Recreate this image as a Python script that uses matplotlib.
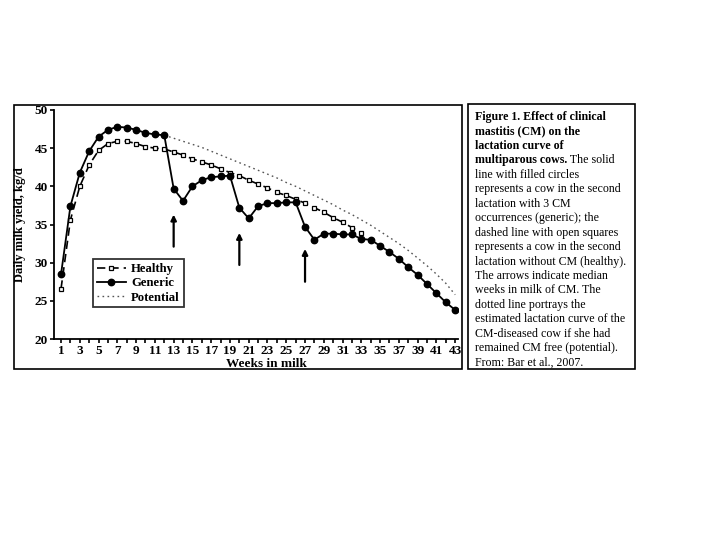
import numpy as np
import matplotlib.pyplot as plt
from matplotlib.patches import Rectangle
from matplotlib.text import Annotation

weeks = np.arange(1, 44)

# generic cow, 3 CM occurrences
generic = [28.5, 37.4, 41.8, 44.6, 46.5, 47.4, 47.8, 47.7, 47.4, 47.0,
           46.8, 46.7, 39.7, 38.1, 40.0, 40.8, 41.2, 41.3, 41.4, 37.2,
           35.8, 37.4, 37.8, 37.8, 37.9, 37.9, 34.7, 33.0, 33.8, 33.8,
           33.7, 33.7, 33.1, 33.0, 32.2, 31.4, 30.5, 29.4, 28.4, 27.2,
           26.0, 24.8, 23.8]

# healthy cow (squares, visible up to week 33)
healthy_weeks = np.arange(1, 34)
healthy = [26.6, 35.6, 40.0, 42.8, 44.7, 45.6, 45.9, 45.9, 45.6, 45.2,
           45.0, 44.9, 44.5, 44.1, 43.6, 43.2, 42.8, 42.3, 41.8, 41.4,
           40.8, 40.3, 39.8, 39.2, 38.8, 38.3, 37.8, 37.2, 36.6, 35.9,
           35.3, 34.6, 33.9]

# potential curve from week 12
potential_weeks = np.arange(12, 44)
potential = [46.7, 46.3, 45.9, 45.5, 45.1, 44.6, 44.1, 43.6, 43.1, 42.6,
             42.1, 41.6, 41.1, 40.5, 40.0, 39.4, 38.8, 38.2, 37.6, 36.9,
             36.3, 35.6, 34.9, 34.1, 33.3, 32.5, 31.6, 30.6, 29.6, 28.5,
             27.3, 25.8]

# arrows: week, tail, head
arrow_weeks = [13, 20, 27]
arrow_tail = [32.1, 29.7, 27.5]
arrow_head = [36.3, 33.9, 31.8]

caption_bold = ["Figure 1. Effect of clinical", "mastitis (CM) on the",
                "lactation curve of", "multiparous cows."]
caption_rest = ["line with filled circles", "represents a cow in the second",
                "lactation with 3 CM", "occurrences (generic); the",
                "dashed line with open squares", "represents a cow in the second",
                "lactation without CM (healthy).", "The arrows indicate median",
                "weeks in milk of CM. The", "dotted line portrays the",
                "estimated lactation curve of the", "CM-diseased cow if she had",
                "remained CM free (potential).", "From: Bar et al., 2007."]

serif = "Liberation Serif"
fig = plt.figure(figsize=(7.2, 5.4), dpi=100)

# frames round the picture and the caption
fig.add_artist(Rectangle((14/720, 1-369/540), 448/720, 264/540, transform=fig.transFigure,
                         fill=False, lw=1.2, ec="black"))
fig.add_artist(Rectangle((468/720, 1-369/540), 167/720, 265/540, transform=fig.transFigure,
                         fill=False, lw=1.2, ec="black"))

ax = fig.add_axes([54/720, 1-339/540, 404/720, 229/540])
ax.plot(potential_weeks, potential, color="#555555", ls=(0, (1.2, 2.4)), lw=1.0, label="Potential")
ax.plot(healthy_weeks, healthy, color="black", ls=(0, (5, 3)), lw=1.2, marker="s", ms=3.2,
        mfc="white", mec="black", mew=0.9, label="Healthy")
ax.plot(weeks, generic, color="black", ls="-", lw=1.3, marker="o", ms=4.6,
        mfc="black", mec="black", label="Generic")

for w, t, h in zip(arrow_weeks, arrow_tail, arrow_head):
    ax.annotate("", xy=(w, h), xytext=(w, t),
                arrowprops=dict(arrowstyle="-|>", color="black", lw=1.6,
                                mutation_scale=8, shrinkA=0, shrinkB=0))

ax.set_xlim(0.25, 43.3)
ax.set_ylim(20, 50)
ax.set_xticks(weeks, minor=True)
ax.set_xticks(np.arange(1, 44, 2))
ax.set_yticks(np.arange(20, 51, 5))
ax.tick_params(axis="both", which="both", direction="out", length=3, width=1.2, pad=1.5)
for lab in ax.get_xticklabels() + ax.get_yticklabels():
    lab.set_fontfamily(serif)
    lab.set_fontweight("bold")
    lab.set_fontsize(9.5)
for s in ["top", "right"]:
    ax.spines[s].set_visible(False)
for s in ["left", "bottom"]:
    ax.spines[s].set_linewidth(1.3)

ax.set_xlabel("Weeks in milk", fontfamily=serif, fontweight="bold", fontsize=9.5)
ax.xaxis.set_label_coords(0.527, -0.085)
ax.set_ylabel("Daily milk yield, kg/d", fontfamily=serif, fontweight="bold", fontsize=9)
ax.yaxis.set_label_coords(-0.07, 0.5)

handles, labels = ax.get_legend_handles_labels()
order = [1, 2, 0]
leg = ax.legend([handles[i] for i in order], [labels[i] for i in order],
                loc="lower left", bbox_to_anchor=(0.08, 0.11), frameon=True, fancybox=False,
                edgecolor="black", handlelength=2.3, handletextpad=0.4, borderpad=0.3,
                labelspacing=0.18, prop=dict(family=serif, weight="bold", size=9.2))
leg.get_frame().set_linewidth(1.3)

# caption
x0 = 475/720
y = 1 - 117/540
dy = 14.45/540
fs = 8.6
last = None
for line in caption_bold:
    last = fig.text(x0, y, line, family=serif, weight="bold", fontsize=fs, va="center")
    y -= dy
fig.add_artist(Annotation(" The solid", xy=(1, 0.5), xycoords=last, va="center",
                          ha="left", family=serif, fontsize=fs))
for line in caption_rest:
    fig.text(x0, y, line, family=serif, fontsize=fs, va="center")
    y -= dy

fig.savefig("out.png", dpi=100)
